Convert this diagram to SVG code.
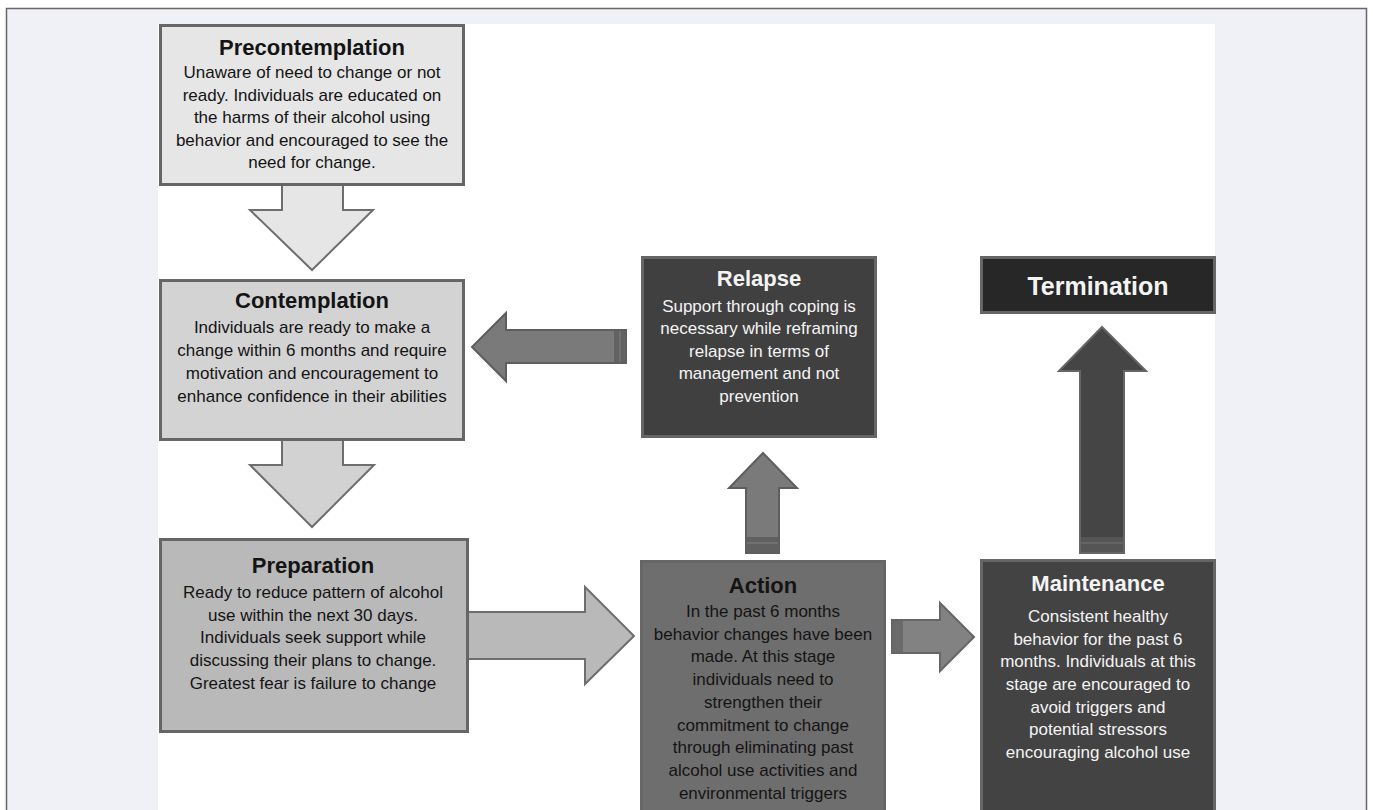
<svg xmlns="http://www.w3.org/2000/svg" width="1373" height="810" viewBox="0 0 1373 810">
<defs>
<style>
.box{stroke:#666;stroke-width:3}
.arr{stroke-width:2;stroke-linejoin:miter}
text{font-family:"Liberation Sans",Arial,sans-serif;text-anchor:middle}
.t{font-size:22px;font-weight:bold}
.b{font-size:17px}
.dk{fill:#141414}
.lt{fill:#f4f4f4}
</style>
</defs>
<rect x="0" y="0" width="1373" height="810" fill="#ffffff"/>
<rect x="6.5" y="8.5" width="1360" height="830" fill="#f0f1f7" stroke="#666" stroke-width="1.5"/>
<rect x="158" y="24" width="1057" height="800" fill="#ffffff"/>

<g id="connectors">
<polygon class="arr" points="282,184 343,184 343,210 373,210 312,270 250,210 282,210" fill="#e6e6e6" stroke="#6e6e6e"/>
<polygon class="arr" points="282,440 343,440 343,465 374,465 312,527 250,465 282,465" fill="#d2d2d2" stroke="#6e6e6e"/>
<polygon class="arr" points="468,612 585,612 585,587 634,636 585,684 585,659 468,659" fill="#b9b9b9" stroke="#6e6e6e"/>
<g id="arrow-action-relapse">
<polygon class="arr" points="746,553 746,488 729,488 763,453 797,488 779,488 779,553" fill="#7a7a7a" stroke="#5e5e5e"/>
<rect x="747" y="537" width="31" height="15" fill="#606060"/>
<line x1="747" y1="543" x2="778" y2="543" stroke="#777" stroke-width="1.5"/>
</g>
<g id="arrow-relapse-contemplation">
<polygon class="arr" points="626,330 506,330 506,313 472,347 506,381 506,363 626,363" fill="#7a7a7a" stroke="#5e5e5e"/>
<rect x="614" y="331" width="11" height="31" fill="#626262"/>
<line x1="620" y1="331" x2="620" y2="362" stroke="#777" stroke-width="1.5"/>
</g>
<g id="arrow-maintenance-termination">
<polygon class="arr" points="1080,553 1080,371 1059,371 1102,327 1146,371 1124,371 1124,553" fill="#454545" stroke="#666"/>
<rect x="1081" y="537" width="42" height="15" fill="#555"/>
<line x1="1081" y1="543" x2="1123" y2="543" stroke="#6a6a6a" stroke-width="1.5"/>
</g>
<g id="arrow-action-maintenance">
<polygon class="arr" points="892,620 940,620 940,603 974,637 940,671 940,653 892,653" fill="#828282" stroke="#666"/>
<rect x="893" y="621" width="10" height="31" fill="#6a6a6a"/>
</g>
</g>

<g id="precontemplation">
<rect class="box" x="160.5" y="25.5" width="303" height="159" fill="#e6e6e6"/>
<text class="t dk" x="312" y="55">Precontemplation</text>
<text class="b dk" x="312" y="78">Unaware of need to change or not</text>
<text class="b dk" x="312" y="101">ready. Individuals are educated on</text>
<text class="b dk" x="312" y="123">the harms of their alcohol using</text>
<text class="b dk" x="312" y="146">behavior and encouraged to see the</text>
<text class="b dk" x="312" y="168">need for change.</text>
</g>

<g id="contemplation">
<rect class="box" x="160.5" y="280.5" width="303" height="159" fill="#d3d3d3"/>
<text class="t dk" x="312" y="308">Contemplation</text>
<text class="b dk" x="312" y="333">Individuals are ready to make a</text>
<text class="b dk" x="312" y="356">change within 6 months and require</text>
<text class="b dk" x="312" y="379">motivation and encouragement to</text>
<text class="b dk" x="312" y="402">enhance confidence in their abilities</text>
</g>

<g id="preparation">
<rect class="box" x="160.5" y="539.5" width="307" height="192" fill="#b9b9b9"/>
<text class="t dk" x="313" y="573">Preparation</text>
<text class="b dk" x="313" y="598">Ready to reduce pattern of alcohol</text>
<text class="b dk" x="313" y="621">use within the next 30 days.</text>
<text class="b dk" x="313" y="643">Individuals seek support while</text>
<text class="b dk" x="313" y="666">discussing their plans to change.</text>
<text class="b dk" x="313" y="689">Greatest fear is failure to change</text>
</g>

<g id="relapse">
<rect class="box" x="642.5" y="257.5" width="233" height="179" fill="#404040" stroke="#6a6a6a"/>
<text class="t lt" x="759" y="286">Relapse</text>
<text class="b lt" x="759" y="312">Support through coping is</text>
<text class="b lt" x="759" y="334">necessary while reframing</text>
<text class="b lt" x="759" y="357">relapse in terms of</text>
<text class="b lt" x="759" y="379">management and not</text>
<text class="b lt" x="759" y="402">prevention</text>
</g>

<g id="termination">
<rect class="box" x="981.5" y="257.5" width="233" height="55" fill="#272727" stroke="#5a5a5a"/>
<text class="lt" x="1098" y="295" font-size="25" font-weight="bold">Termination</text>
</g>

<g id="action">
<rect class="box" x="641.5" y="561.5" width="243" height="270" fill="#6e6e6e" stroke="#666"/>
<text class="t dk" x="763" y="593">Action</text>
<text class="b dk" x="763" y="617">In the past 6 months</text>
<text class="b dk" x="763" y="640">behavior changes have been</text>
<text class="b dk" x="763" y="662">made. At this stage</text>
<text class="b dk" x="763" y="685">individuals need to</text>
<text class="b dk" x="763" y="708">strengthen their</text>
<text class="b dk" x="763" y="731">commitment to change</text>
<text class="b dk" x="763" y="753">through eliminating past</text>
<text class="b dk" x="763" y="776">alcohol use activities and</text>
<text class="b dk" x="763" y="799">environmental triggers</text>
</g>

<g id="maintenance">
<rect class="box" x="981.5" y="560.5" width="233" height="270" fill="#434343" stroke="#666"/>
<text class="t lt" x="1098" y="591">Maintenance</text>
<text class="b lt" x="1098" y="622">Consistent healthy</text>
<text class="b lt" x="1098" y="645">behavior for the past 6</text>
<text class="b lt" x="1098" y="667">months. Individuals at this</text>
<text class="b lt" x="1098" y="690">stage are encouraged to</text>
<text class="b lt" x="1098" y="713">avoid  triggers and</text>
<text class="b lt" x="1098" y="735">potential stressors</text>
<text class="b lt" x="1098" y="758">encouraging alcohol use</text>
</g>
</svg>
